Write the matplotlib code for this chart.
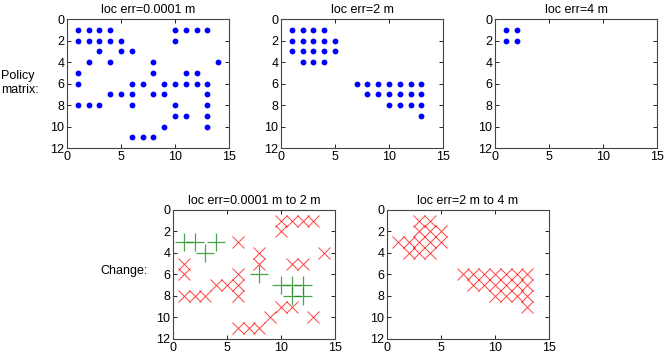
import matplotlib
matplotlib.use("Agg")
import matplotlib.pyplot as plt
import numpy as np

plt.rcParams['font.family'] = ['Liberation Sans', 'DejaVu Sans']
plt.rcParams['font.size'] = 9

# policy matrices, (x, y) of the filled cells
p1_x = [1, 2, 3, 4, 10, 11, 12, 13,
        1, 2, 3, 4, 5, 10,
        3, 5, 6,
        2, 4, 8, 14,
        1, 8, 11, 12,
        1, 6, 7, 9, 10, 11, 12, 13,
        4, 5, 6, 8, 9, 13,
        1, 2, 3, 6, 10, 13,
        10, 11, 13,
        9, 13,
        6, 7, 8]
p1_y = [1] * 8 + [2] * 6 + [3] * 3 + [4] * 4 + [5] * 4 + [6] * 8 + [7] * 6 + [8] * 6 + [9] * 3 + [10] * 2 + [11] * 3

p2_x = [1, 2, 3, 4,
        1, 2, 3, 4, 5,
        1, 2, 3, 4, 5,
        2, 3, 4,
        7, 8, 9, 10, 11, 12, 13,
        8, 9, 10, 11, 12, 13,
        10, 11, 12, 13,
        13]
p2_y = [1] * 4 + [2] * 5 + [3] * 5 + [4] * 3 + [6] * 7 + [7] * 6 + [8] * 4 + [9] * 1

p3_x = [1, 2, 1, 2]
p3_y = [1, 1, 2, 2]

titles = ['loc err=0.0001 m', 'loc err=2 m', 'loc err=4 m']
change_titles = ['loc err=0.0001 m to 2 m', 'loc err=2 m to 4 m']

policies = [(p1_x, p1_y), (p2_x, p2_y), (p3_x, p3_y)]


def diff(a, b):
    sa = set(zip(*a))
    sb = set(zip(*b))
    removed = sorted(sa - sb)
    added = sorted(sb - sa)
    return removed, added


def style(ax):
    ax.set_xlim(0, 15)
    ax.set_ylim(12, 0)
    ax.set_xticks([0, 5, 10, 15])
    ax.set_yticks([0, 2, 4, 6, 8, 10, 12])
    ax.tick_params(direction='in', length=3, width=0.6, top=True, right=True,
                   labelsize=9, pad=2)
    for s in ax.spines.values():
        s.set_color('#444444')
        s.set_linewidth(0.8)


fig = plt.figure(figsize=(6.64, 3.55), dpi=100)

W, H = 0.244, 0.3634
top_left = [0.1009, 0.4232, 0.7455]
for i in range(3):
    ax = fig.add_axes([top_left[i], 0.583, W, H])
    x, y = policies[i]
    ax.plot(x, y, 'o', color='#0000ff', ms=4.2, mec='none')
    ax.set_title(titles[i], fontsize=9, pad=4)
    style(ax)

bot_left = [0.2605, 0.5828]
for i in range(2):
    ax = fig.add_axes([bot_left[i], 0.0451, W, H])
    removed, added = diff(policies[i], policies[i + 1])
    if removed:
        rx, ry = zip(*removed)
        ax.plot(rx, ry, 'x', color='#ff2020', ms=9.2, mew=0.7, alpha=0.85)
    if added:
        gx, gy = zip(*added)
        ax.plot(gx, gy, '+', color='#1e8c1e', ms=13, mew=0.9, alpha=0.8)
    ax.set_title(change_titles[i], fontsize=9, pad=4)
    style(ax)

fig.text(0.0015, 0.766, 'Policy\nmatrix:', ha='left', va='center', fontsize=9,
         linespacing=1.3)
fig.text(0.1506, 0.2366, 'Change:', ha='left', va='center', fontsize=9)

fig.savefig('out.png', dpi=100)
